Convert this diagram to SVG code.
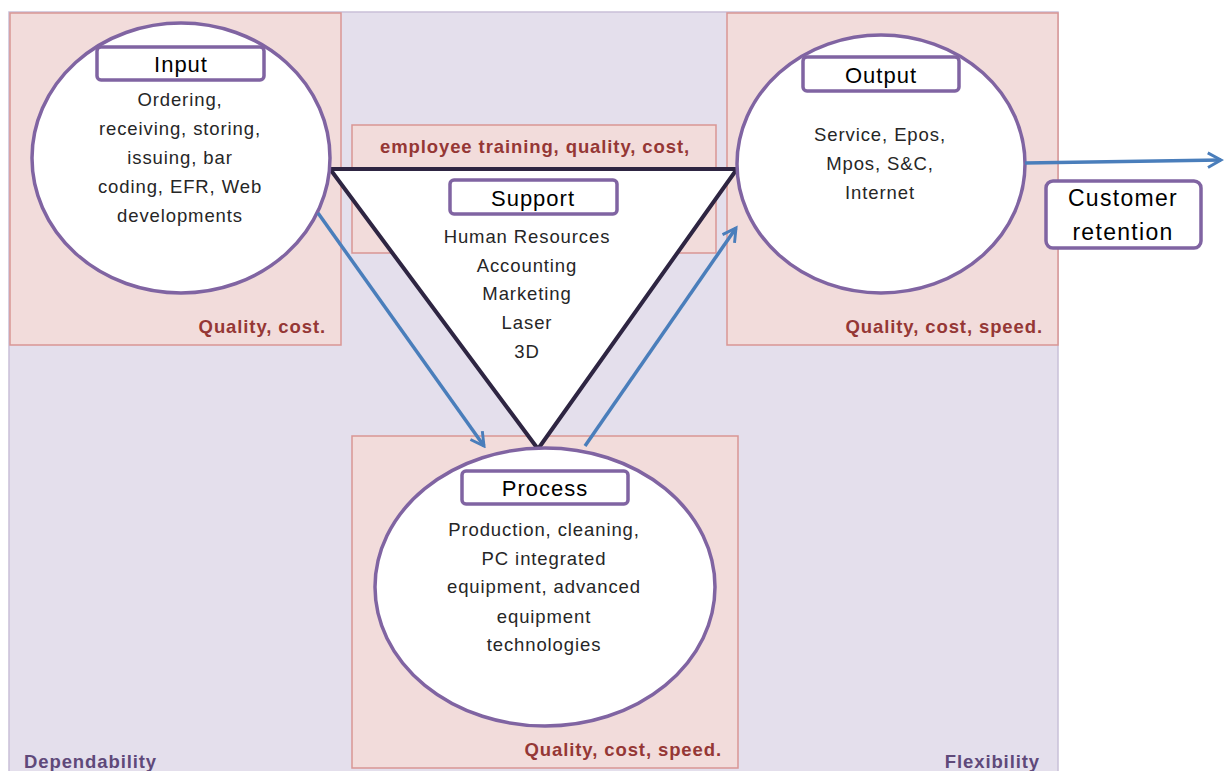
<svg xmlns="http://www.w3.org/2000/svg" width="1225" height="771" viewBox="0 0 1225 771">
<defs>
<style>
.bg{fill:#e4dfec;stroke:#c9c0d8;stroke-width:1.5}
.zone{fill:#f2dcdb;stroke:#d99694;stroke-width:1.5}
.ell{fill:#fff;stroke:#8064a2;stroke-width:3.5}
.lab{fill:#fff;stroke:#8064a2;stroke-width:3.5}
.t{font-family:"Liberation Sans",Arial,sans-serif;font-size:18.5px;letter-spacing:0.9px;fill:#262626;text-anchor:middle}
.h{font-family:"Liberation Sans",Arial,sans-serif;font-size:22px;letter-spacing:1px;fill:#000;text-anchor:middle}
.c{font-family:"Liberation Sans",Arial,sans-serif;font-size:23px;letter-spacing:1.3px;fill:#000;text-anchor:middle}
.q{font-family:"Liberation Sans",Arial,sans-serif;font-size:18.5px;letter-spacing:0.9px;font-weight:bold;fill:#953735;text-anchor:end}
.p{font-family:"Liberation Sans",Arial,sans-serif;font-size:18.5px;letter-spacing:0.9px;font-weight:bold;fill:#5f497a}
.arr{stroke:#4a7ebb;stroke-width:3.5;fill:none}
</style>
<marker id="ah" viewBox="0 0 12 12" refX="10" refY="6" markerWidth="5" markerHeight="5" orient="auto" markerUnits="strokeWidth">
<path d="M1,1 L10,6 L1,11" fill="none" stroke="#4a7ebb" stroke-width="2"/>
</marker>
</defs>
<rect width="1225" height="771" fill="#fff"/>
<rect class="bg" x="9" y="12" width="1049" height="762"/>
<text class="p" x="24" y="768">Dependability</text>
<text class="p" x="1040" y="768" text-anchor="end">Flexibility</text>

<g id="zones">
<rect class="zone" x="10" y="13" width="331" height="332"/>
<rect class="zone" x="727" y="13" width="331" height="332"/>
<rect class="zone" x="352" y="125" width="364" height="128"/>
<rect class="zone" x="352" y="436" width="386" height="332"/>
<text class="q" x="326" y="333">Quality, cost.</text>
<text class="q" x="1043" y="333">Quality, cost, speed.</text>
<text class="q" x="690" y="153">employee training, quality, cost,</text>
<text class="q" x="722" y="756">Quality, cost, speed.</text>
</g>

<g id="support">
<polygon points="330,169 737,169 538,449" fill="#fff" stroke="#2e2542" stroke-width="4" stroke-linejoin="miter"/>
<rect class="lab" x="450" y="180" width="167" height="34" rx="4"/>
<text class="h" x="533" y="206">Support</text>
<text class="t" x="527" y="243">Human Resources</text>
<text class="t" x="527" y="272">Accounting</text>
<text class="t" x="527" y="300">Marketing</text>
<text class="t" x="527" y="329">Laser</text>
<text class="t" x="527" y="358">3D</text>
</g>

<g id="input">
<ellipse class="ell" cx="181" cy="158" rx="149" ry="135"/>
<rect class="lab" x="97" y="47" width="167" height="33" rx="4"/>
<text class="h" x="181" y="72">Input</text>
<text class="t" x="180" y="106">Ordering,</text>
<text class="t" x="180" y="135">receiving, storing,</text>
<text class="t" x="180" y="164">issuing, bar</text>
<text class="t" x="180" y="193">coding, EFR, Web</text>
<text class="t" x="180" y="222">developments</text>
</g>

<g id="output">
<ellipse class="ell" cx="881" cy="164" rx="144" ry="129"/>
<rect class="lab" x="803" y="57" width="156" height="34" rx="4"/>
<text class="h" x="881" y="83">Output</text>
<text class="t" x="880" y="141">Service, Epos,</text>
<text class="t" x="880" y="170">Mpos, S&amp;C,</text>
<text class="t" x="880" y="199">Internet</text>
</g>

<g id="process">
<ellipse class="ell" cx="545" cy="587" rx="170" ry="139"/>
<rect class="lab" x="462" y="471" width="166" height="33" rx="4"/>
<text class="h" x="545" y="496">Process</text>
<text class="t" x="544" y="536">Production, cleaning,</text>
<text class="t" x="544" y="565">PC integrated</text>
<text class="t" x="544" y="593">equipment, advanced</text>
<text class="t" x="544" y="623">equipment</text>
<text class="t" x="544" y="651">technologies</text>
</g>

<g id="customer">
<rect class="lab" x="1046" y="181" width="155" height="67" rx="7"/>
<text class="c" x="1123" y="206">Customer</text>
<text class="c" x="1123" y="240">retention</text>
</g>

<g id="connectors">
<line class="arr" x1="318" y1="213" x2="484" y2="446" marker-end="url(#ah)"/>
<line class="arr" x1="585" y1="446" x2="736" y2="228" marker-end="url(#ah)"/>
<line class="arr" x1="1025" y1="163" x2="1221" y2="160" marker-end="url(#ah)"/>
</g>
</svg>
